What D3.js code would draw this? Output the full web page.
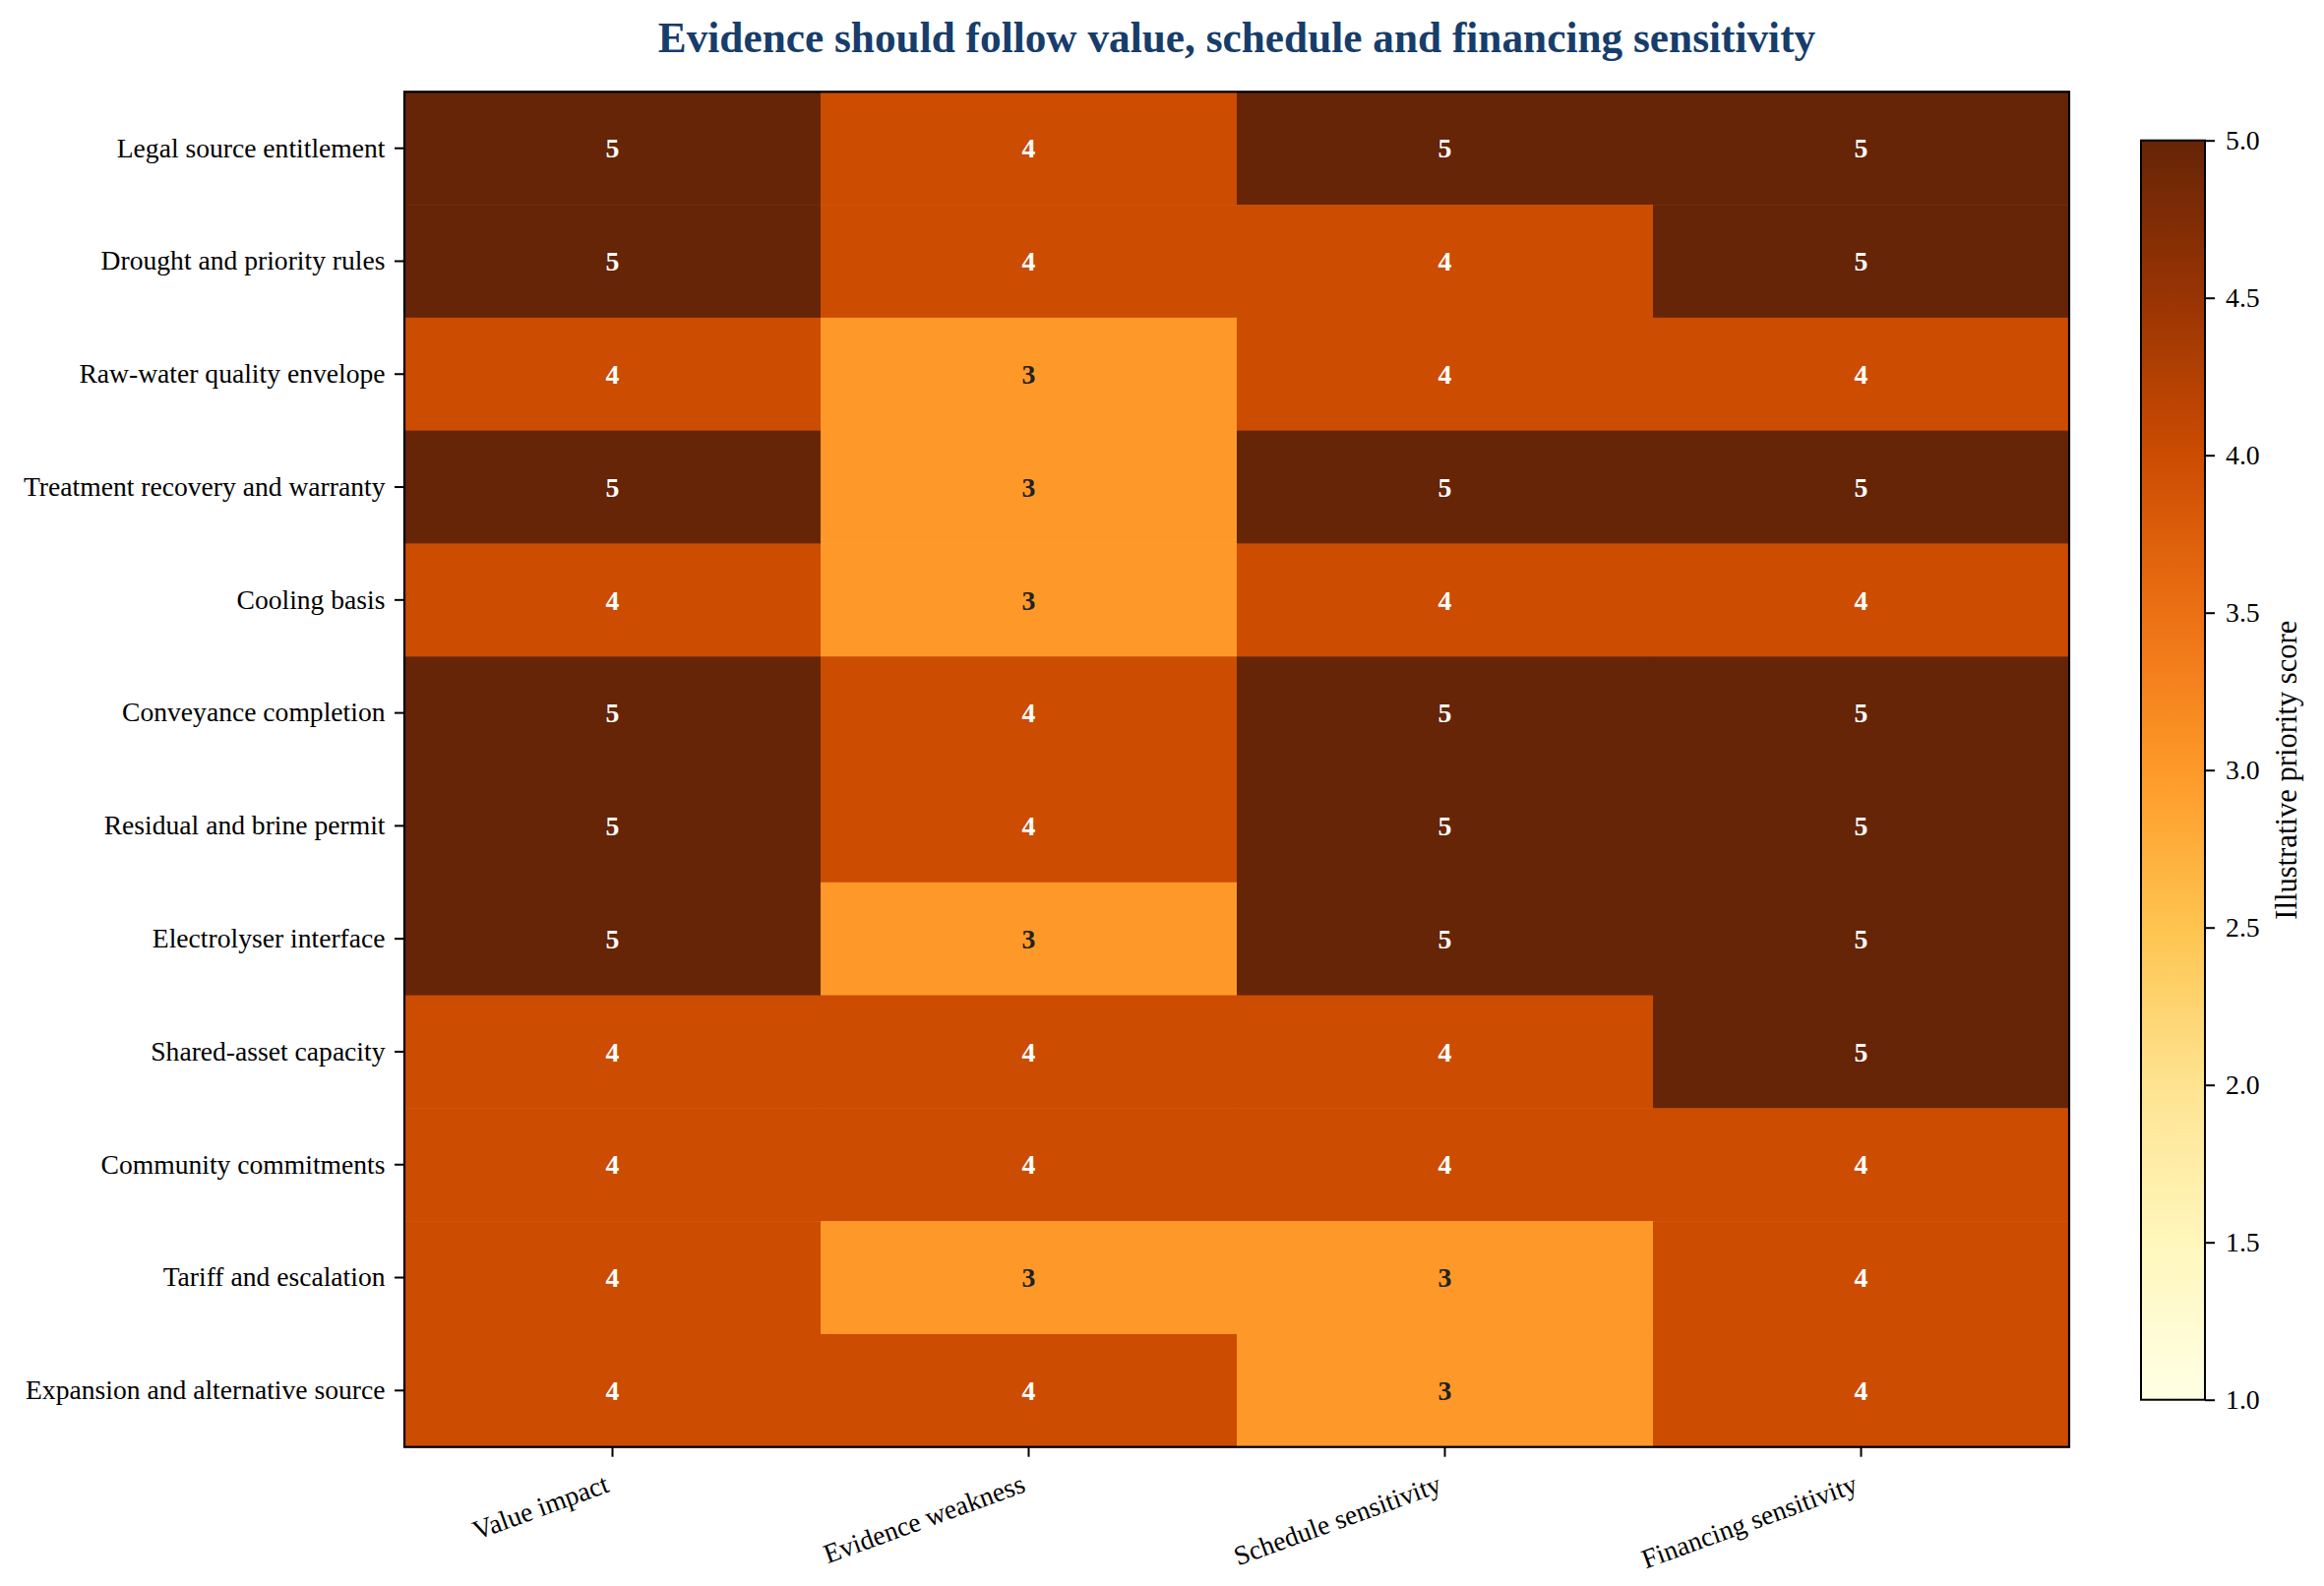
<!DOCTYPE html>
<html>
<head>
<meta charset="utf-8">
<script src="https://cdn.jsdelivr.net/npm/d3@7"></script>
<style>
  body { margin: 0; background: #fff; }
  svg text { font-family: "Liberation Serif", "Times New Roman", serif; }
</style>
</head>
<body>
<svg id="heatmap" width="2362" height="1612"></svg>
<script>
var rows = [
  "Legal source entitlement",
  "Drought and priority rules",
  "Raw-water quality envelope",
  "Treatment recovery and warranty",
  "Cooling basis",
  "Conveyance completion",
  "Residual and brine permit",
  "Electrolyser interface",
  "Shared-asset capacity",
  "Community commitments",
  "Tariff and escalation",
  "Expansion and alternative source"
];

var criteria = ["Value impact", "Evidence weakness", "Schedule sensitivity", "Financing sensitivity"];

var valueImpact = [5, 5, 4, 5, 4, 5, 5, 5, 4, 4, 4, 4];
var evidenceWeakness = [4, 4, 3, 3, 3, 4, 4, 3, 4, 4, 3, 4];
var scheduleSensitivity = [5, 4, 4, 5, 4, 5, 5, 5, 4, 4, 3, 3];
var financingSensitivity = [5, 5, 4, 5, 4, 5, 5, 5, 5, 4, 4, 4];

var colorbarTicks = [1.0, 1.5, 2.0, 2.5, 3.0, 3.5, 4.0, 4.5, 5.0];

// matplotlib YlOrBr anchors
var ylOrBr = ["#ffffe5", "#fff7bc", "#fee391", "#fec44f", "#fe9929", "#ec7014", "#cc4c02", "#993404", "#662506"];

var series = [valueImpact, evidenceWeakness, scheduleSensitivity, financingSensitivity];
var cells = [];
rows.forEach(function(r, i) {
  criteria.forEach(function(c, j) {
    cells.push({row: r, col: c, value: series[j][i]});
  });
});

var svg = d3.select("#heatmap"),
    margin = {top: 93.3, left: 411},
    width = 1692,
    height = 1377.4;

var x = d3.scaleBand().domain(criteria).range([0, width]),
    y = d3.scaleBand().domain(rows).range([0, height]);

var color = d3.scaleLinear()
    .domain(ylOrBr.map(function(d, i) { return 1 + 4 * i / (ylOrBr.length - 1); }))
    .range(ylOrBr)
    .clamp(true);

var g = svg.append("g")
    .attr("transform", "translate(" + margin.left + "," + margin.top + ")");

g.selectAll(".cell")
  .data(cells)
  .enter().append("rect")
    .attr("class", "cell")
    .attr("x", function(d) { return x(d.col); })
    .attr("y", function(d) { return y(d.row); })
    .attr("width", x.bandwidth() + 0.5)
    .attr("height", y.bandwidth() + 0.5)
    .attr("fill", function(d) { return color(d.value); });

g.selectAll(".cell-label")
  .data(cells)
  .enter().append("text")
    .attr("class", "cell-label")
    .attr("x", function(d) { return x(d.col) + x.bandwidth() / 2; })
    .attr("y", function(d) { return y(d.row) + y.bandwidth() / 2; })
    .attr("dy", "0.35em")
    .attr("text-anchor", "middle")
    .style("font-size", "27.8px")
    .style("font-weight", "bold")
    .style("fill", function(d) { return d.value >= 4 ? "#ffffff" : "#222222"; })
    .text(function(d) { return d.value; });

// axes
var yAxis = g.append("g")
    .call(d3.axisLeft(y).tickSize(10).tickPadding(9.5));
yAxis.select(".domain").remove();
yAxis.selectAll(".tick line").attr("stroke", "#000").attr("stroke-width", 2);
yAxis.selectAll(".tick text")
    .style("font-size", "27.6px")
    .style("fill", "#000");

var xAxis = g.append("g")
    .attr("transform", "translate(0," + height + ")")
    .call(d3.axisBottom(x).tickSize(10).tickPadding(0));
xAxis.select(".domain").remove();
xAxis.selectAll(".tick line").attr("stroke", "#000").attr("stroke-width", 2);
xAxis.selectAll(".tick text")
    .style("font-size", "27.6px")
    .style("fill", "#000")
    .attr("text-anchor", "end")
    .attr("dy", null)
    .attr("y", null)
    .attr("transform", "translate(-2,45) rotate(-20)");

g.append("rect")
    .attr("width", width)
    .attr("height", height)
    .attr("fill", "none")
    .attr("stroke", "#000")
    .attr("stroke-width", 2.2);

// colorbar
var cb = {x: 2176, top: 142.7, w: 65, h: 1280};
var cbScale = d3.scaleLinear().domain([1, 5]).range([cb.top + cb.h, cb.top]);

var grad = svg.append("defs").append("linearGradient")
    .attr("id", "cbgrad")
    .attr("x1", "0").attr("y1", "1").attr("x2", "0").attr("y2", "0");
grad.selectAll("stop")
  .data(color.domain())
  .enter().append("stop")
    .attr("offset", function(d) { return (d - 1) / 4; })
    .attr("stop-color", function(d) { return color(d); });

svg.append("rect")
    .attr("x", cb.x)
    .attr("y", cb.top)
    .attr("width", cb.w)
    .attr("height", cb.h)
    .attr("fill", "url(#cbgrad)")
    .attr("stroke", "#000")
    .attr("stroke-width", 2);

var cbAxis = svg.append("g")
    .attr("transform", "translate(" + (cb.x + cb.w) + ",0)")
    .call(d3.axisRight(cbScale).tickValues(colorbarTicks).tickFormat(d3.format(".1f")).tickSize(10).tickPadding(11));
cbAxis.select(".domain").remove();
cbAxis.selectAll(".tick line").attr("stroke", "#000").attr("stroke-width", 2);
cbAxis.selectAll(".tick text")
    .style("font-size", "27.8px")
    .style("fill", "#000");

svg.append("text")
    .attr("transform", "translate(2334," + (cb.top + cb.h / 2) + ") rotate(-90)")
    .attr("text-anchor", "middle")
    .style("font-size", "30.6px")
    .style("fill", "#000")
    .text("Illustrative priority score");

// title
svg.append("text")
    .attr("x", margin.left + width / 2)
    .attr("y", 52.5)
    .attr("text-anchor", "middle")
    .style("font-size", "43.3px")
    .style("font-weight", "bold")
    .style("fill", "#173d6b")
    .text("Evidence should follow value, schedule and financing sensitivity");
</script>
</body>
</html>
